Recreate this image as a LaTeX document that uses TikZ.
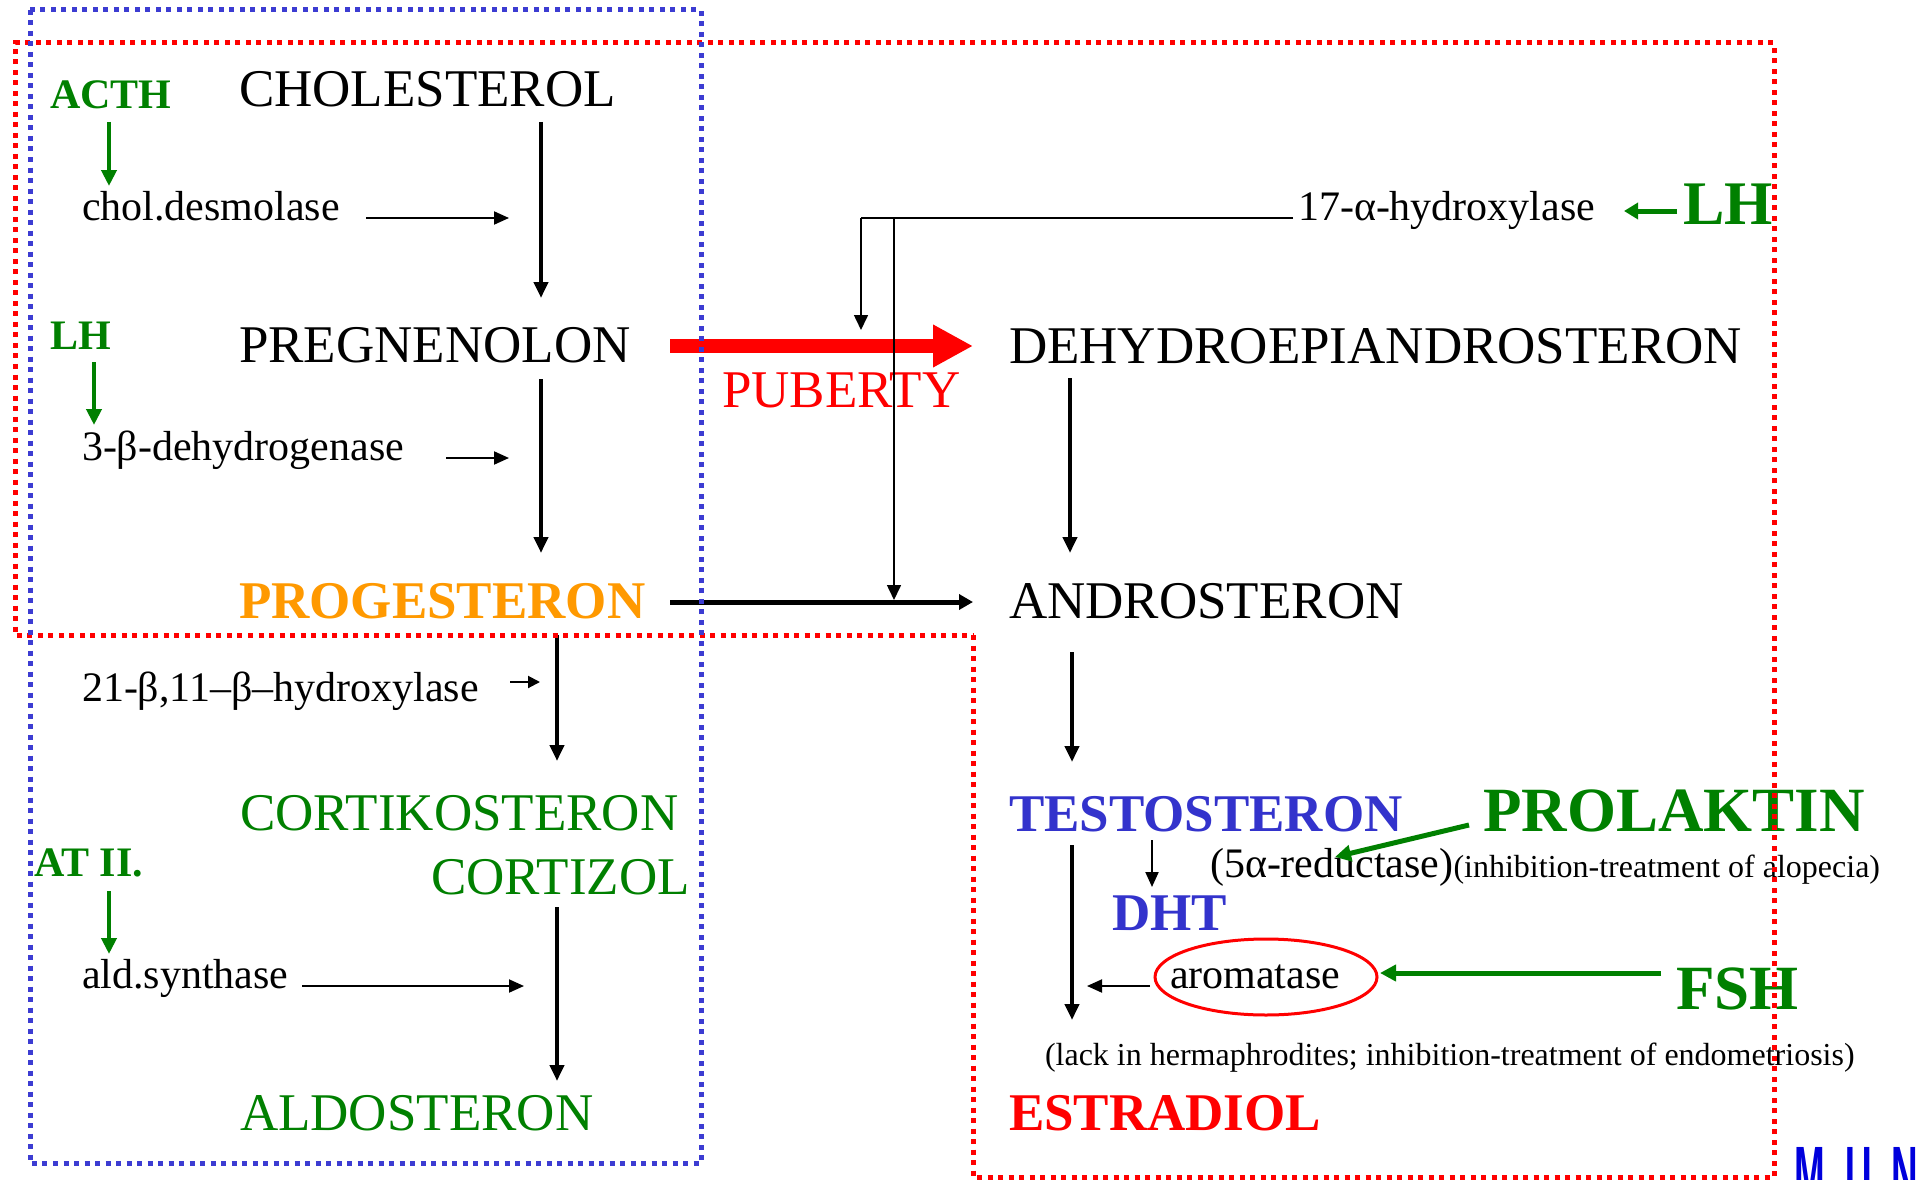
\documentclass[tikz,border=0pt]{standalone}
\usepackage{fontspec}
\setmainfont{Liberation Serif}
\newfontfamily\munsans{Liberation Sans}
\usetikzlibrary{arrows.meta,shapes.geometric}
\definecolor{grn}{RGB}{0,128,0}
\definecolor{blu}{RGB}{51,51,204}
\definecolor{org}{RGB}{255,153,0}
\definecolor{dotblue}{RGB}{60,60,210}
\definecolor{munblue}{RGB}{0,0,220}
\begin{document}
\begin{tikzpicture}[x=1pt,y=-1pt,
 lbl/.style={anchor=base west,inner sep=0pt,outer sep=0pt},
 big/.style={lbl,font=\fontsize{53}{60}\selectfont},
 bigb/.style={lbl,font=\fontsize{53}{60}\selectfont\bfseries},
 hugeb/.style={lbl,font=\fontsize{63}{70}\selectfont\bfseries,text=grn},
 enz/.style={lbl,font=\fontsize{42}{48}\selectfont},
 hormb/.style={lbl,font=\fontsize{42}{48}\selectfont\bfseries,text=grn},
 note/.style={lbl,font=\fontsize{32}{36}\selectfont},
 mainarr/.style={line width=4pt,-{Triangle[length=16pt,width=14pt]}},
 thinarr/.style={line width=2pt,-{Triangle[length=15pt,width=13pt]}},
 hairarr/.style={line width=1.6pt,-{Triangle[length=15pt,width=14pt]}},
 grnarr/.style={grn,line width=4pt,-{Triangle[length=16pt,width=15pt]}},
 dotbox/.style={line width=5pt,dash pattern=on 5pt off 5.5pt}
]
\useasboundingbox (0,0) rectangle (1916,1180);

% ---------- left column texts ----------
\node[hormb] (acth) at (50,109) {ACTH};
\node[big] (chol) at (239,107) {CHOLESTEROL};
\node[enz] (desm) at (82,220) {chol.desmolase};
\node[hormb] (lhA) at (50,349) {LH};
\node[big] (preg) at (239,362) {PREGNENOLON};
\node[enz] (hsd) at (82,460) {3-β-dehydrogenase};
\node[bigb,text=org] (prog) at (239,618) {PROGESTERON};
\node[enz] (hyd21) at (82,701) {21-β,11–β–hydroxylase};
\node[big,text=grn] (cortik) at (240,830) {CORTIKOSTERON};
\node[big,text=grn] (cortiz) at (431,894) {CORTIZOL};
\node[hormb] (at2) at (34,876) {AT II.};
\node[enz] (ald) at (82,988) {ald.synthase};
\node[big,text=grn] (aldo) at (240,1130) {ALDOSTERON};

% ---------- right column texts ----------
\node[big,text=red] (pub) at (722,407) {PUBERTY};
\node[enz] (hyd17) at (1298,220) {17-α-hydroxylase};
\node[lbl,font=\fontsize{62}{70}\selectfont\bfseries,text=grn] (lhB) at (1683,224) {LH};
\node[big] (dhea) at (1009,363) {DEHYDROEPIANDROSTERON};
\node[big] (andro) at (1009,618) {ANDROSTERON};
\node[bigb,text=blu] (testo) at (1009,831) {TESTOSTERON};
\node[hugeb] (prl) at (1483,831) {PROLAKTIN};
\node[enz] (red5) at (1210,877) {(5α-reductase)};
\node[note] (alop) at (red5.base east) {(inhibition-treatment of alopecia)};
\node[bigb,text=blu] (dht) at (1112,930) {DHT};
\node[ellipse,draw=red,line width=3pt,minimum width=222pt,minimum height=76pt,inner sep=0pt] (arom) at (1266,977) {};
\node[enz] (aromt) at (1170,988) {aromatase};
\node[hugeb] (fsh) at (1676,1009) {FSH};
\node[note] (lack) at (1045,1065) {(lack in hermaphrodites; inhibition-treatment of endometriosis)};
\node[bigb,text=red] (estr) at (1009,1130) {ESTRADIOL};
\node[anchor=north west,inner sep=0pt,text=munblue,font=\munsans\bfseries\fontsize{80}{90}\selectfont] (mun) at (1794,1147) {\scalebox{0.46}[1]{M\hspace{44pt}U\hspace{44pt}N}};

% ---------- coordinates ----------
\coordinate (acthS) at (109,122);  \coordinate (acthE) at (109,186);
\coordinate (lhAS) at (94,362);    \coordinate (lhAE) at (94,425);
\coordinate (at2S) at (109,891);   \coordinate (at2E) at (109,954);
\coordinate (desmS) at (366,218);  \coordinate (desmE) at (509,218);
\coordinate (hsdS) at (446,458);   \coordinate (hsdE) at (509,458);
\coordinate (h21S) at (510,682);   \coordinate (h21E) at (540,682);
\coordinate (aldS) at (302,986);   \coordinate (aldE) at (524,986);
\coordinate (cholB) at (541,122);  \coordinate (pregT) at (541,298);
\coordinate (pregB) at (541,379);  \coordinate (progT) at (541,553);
\coordinate (progB) at (557,635);  \coordinate (cortT) at (557,761);
\coordinate (cortB) at (557,907);  \coordinate (aldoT) at (557,1081);
\coordinate (pubS) at (670,346);   \coordinate (pubE) at (973,346);
\coordinate (progR) at (670,602);  \coordinate (androL) at (973,602);
\coordinate (h17L) at (1293,218);  \coordinate (h17a) at (861,218);
\coordinate (h17b) at (894,218);   \coordinate (h17aE) at (861,330);
\coordinate (h17bE) at (894,600);
\coordinate (lhBS) at (1677,211);  \coordinate (lhBE) at (1624,211);
\coordinate (dheaB) at (1070,378); \coordinate (androT) at (1070,553);
\coordinate (androB) at (1072,652);\coordinate (testoT) at (1072,762);
\coordinate (testoB) at (1072,845);\coordinate (estrT) at (1072,1020);
\coordinate (dhtS) at (1152,840);  \coordinate (dhtE) at (1152,887);
\coordinate (aromS) at (1150,986); \coordinate (aromE) at (1087,986);
\coordinate (fshS) at (1661,973);  \coordinate (fshE) at (1380,973);
\coordinate (prlS) at (1469,825);  \coordinate (prlE) at (1335,857);

% ---------- connectors ----------
\draw[grnarr] (acthS) -- (acthE);
\draw[grnarr] (lhAS) -- (lhAE);
\draw[grnarr] (at2S) -- (at2E);
\draw[thinarr] (desmS) -- (desmE);
\draw[thinarr] (hsdS) -- (hsdE);
\draw[line width=2pt,-{Triangle[length=12pt,width=12pt]}] (h21S) -- (h21E);
\draw[thinarr] (aldS) -- (aldE);
\draw[mainarr] (cholB) -- (pregT);
\draw[mainarr] (pregB) -- (progT);
\draw[mainarr] (progB) -- (cortT);
\draw[mainarr] (cortB) -- (aldoT);
\draw[red,line width=14pt,-{Triangle[length=40pt,width=40pt]}] (pubS) -- (pubE);
\draw[line width=5pt,-{Triangle[length=14pt,width=15pt]}] (progR) -- (androL);
\draw[line width=1.6pt] (h17L) -- (h17a);
\draw[hairarr] (h17a) -- (h17aE);
\draw[hairarr] (h17b) -- (h17bE);
\draw[grn,line width=5pt,-{Triangle[length=14pt,width=16pt]}] (lhBS) -- (lhBE);
\draw[mainarr] (dheaB) -- (androT);
\draw[mainarr] (androB) -- (testoT);
\draw[mainarr] (testoB) -- (estrT);
\draw[thinarr] (dhtS) -- (dhtE);
\draw[thinarr] (aromS) -- (aromE);
\draw[grn,line width=5pt,-{Triangle[length=16pt,width=16pt]}] (fshS) -- (fshE);
\draw[grn,line width=5pt,-{Triangle[length=16pt,width=16pt]}] (prlS) -- (prlE);

% ---------- dotted frames ----------
\draw[red,dotbox] (973,635) -- (973,1177) -- (1774,1177) -- (1774,43) -- (15,43) -- (15,635) -- cycle;
\draw[dotblue,dotbox] (30,10) rectangle (701,1163);
\end{tikzpicture}
\end{document}
